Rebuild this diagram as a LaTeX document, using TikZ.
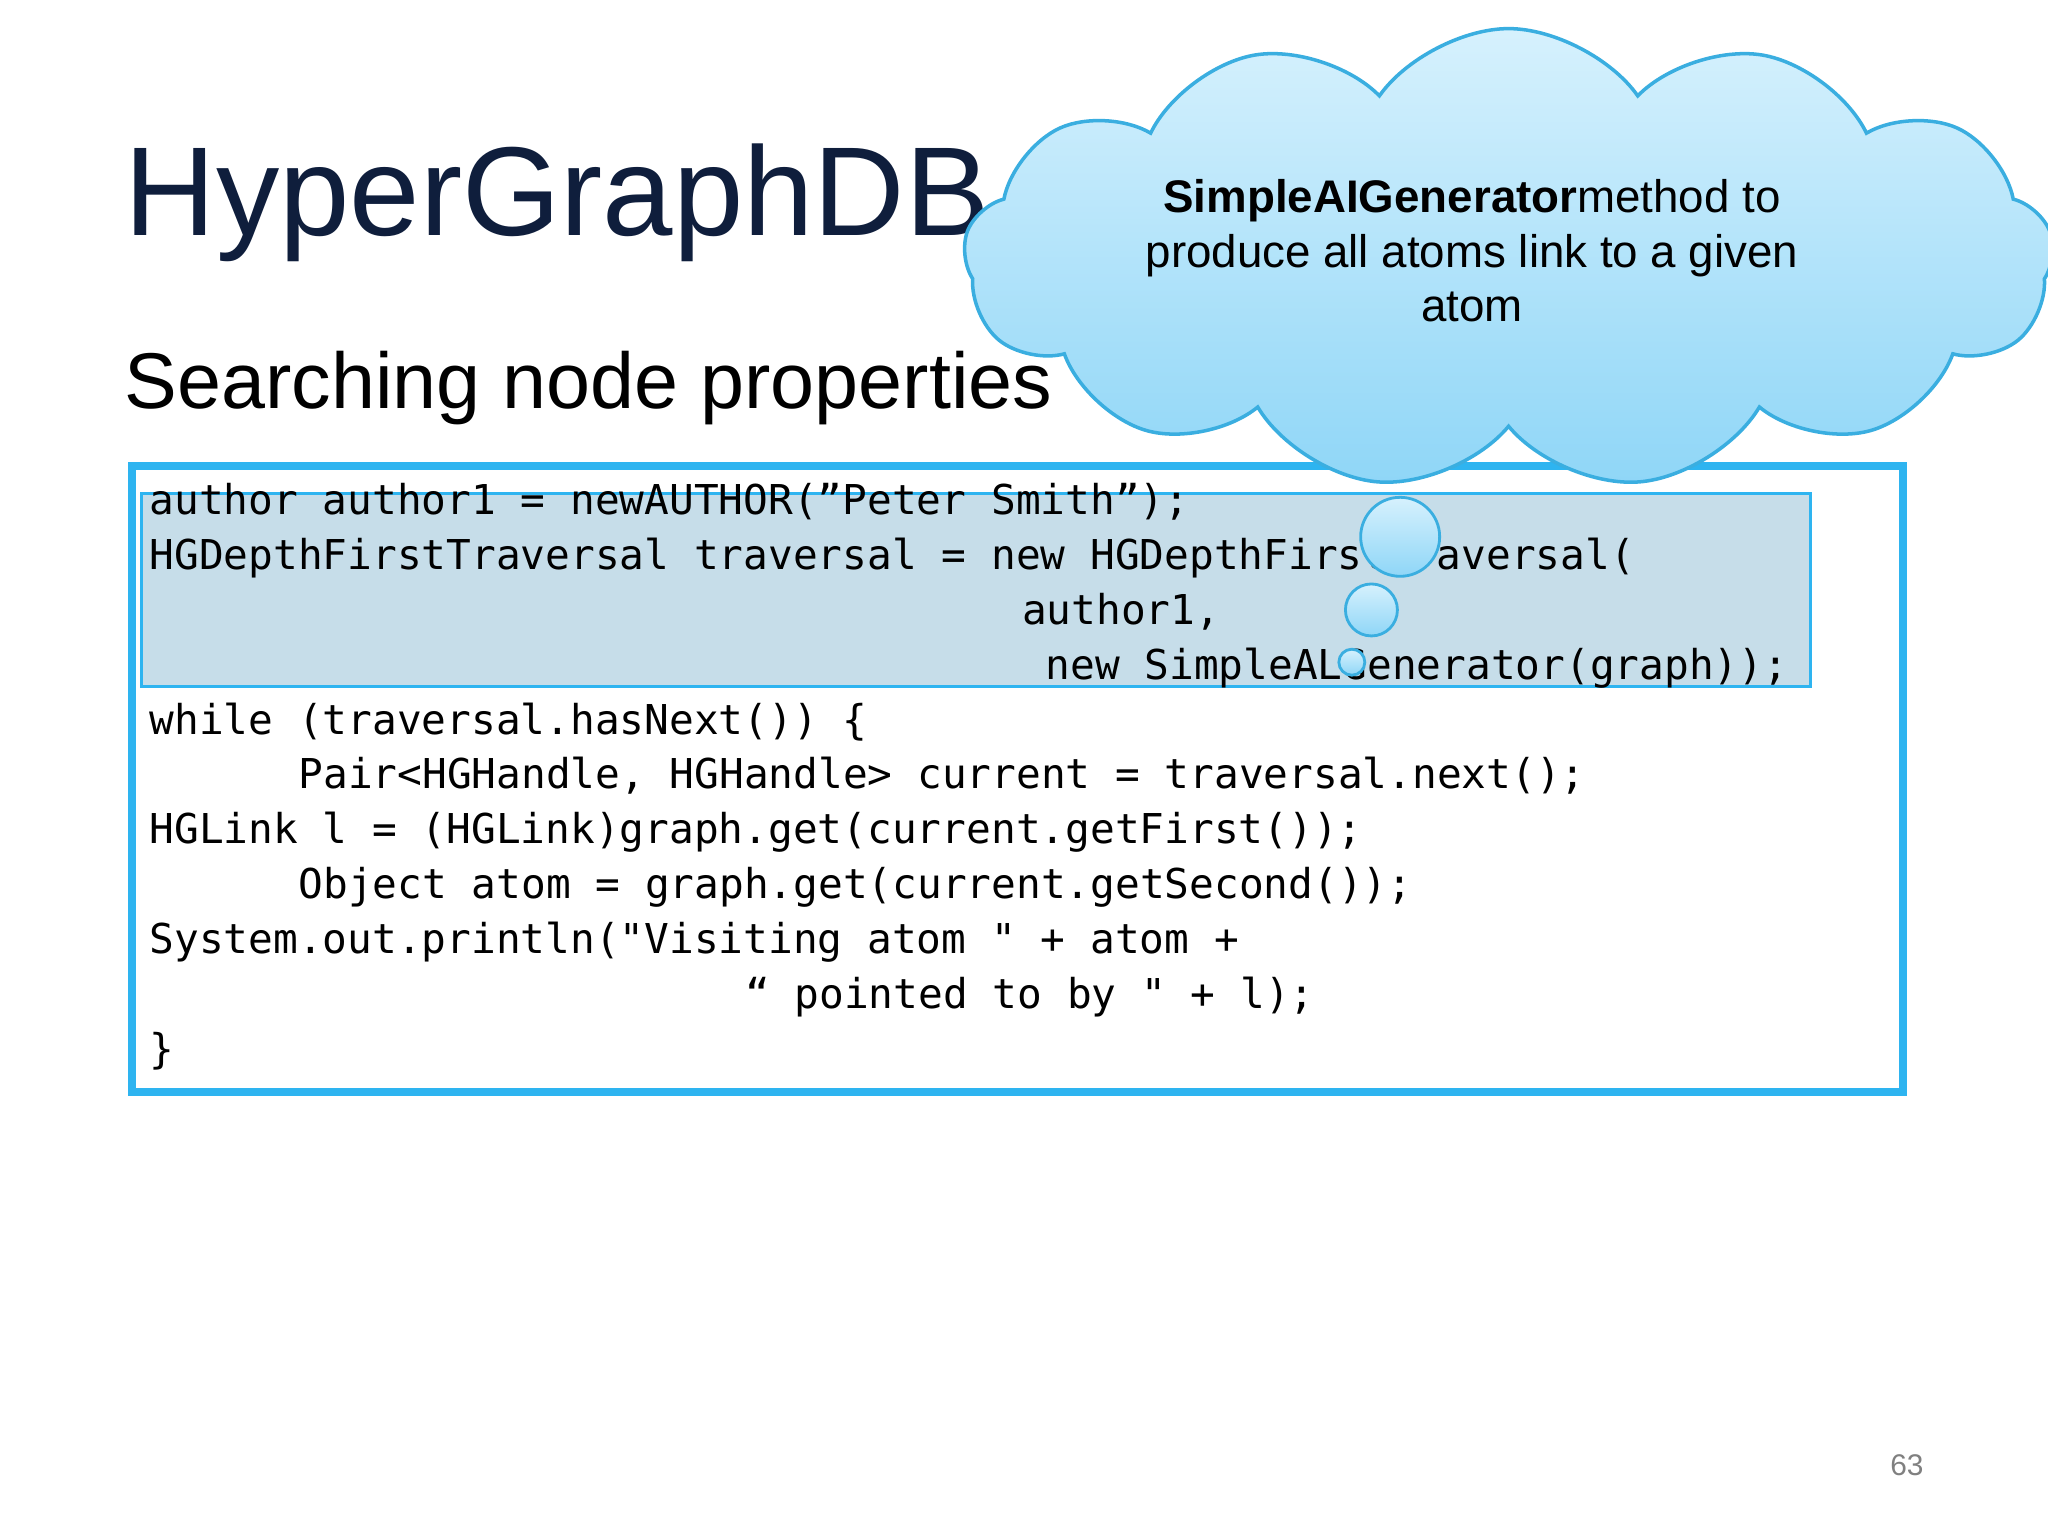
\documentclass[tikz,border=0pt]{standalone}
\usepackage{fontspec}
\setmainfont{Liberation Sans}
\newfontfamily\codefont{DejaVu Sans Mono}
\usetikzlibrary{shapes.symbols}
\definecolor{navy}{HTML}{0F1E3C}
\definecolor{boxblue}{HTML}{2EB4F0}
\definecolor{hl}{HTML}{C6DDE9}
\definecolor{cloudtop}{HTML}{D6F1FD}
\definecolor{cloudbot}{HTML}{8FD6F7}
\definecolor{cloudline}{HTML}{3AAEE0}
\tikzset{
 code/.style={anchor=base west,inner sep=0,font=\codefont\fontsize{11.7}{13}\selectfont},
 bubble/.style={circle,draw=cloudline,line width=0.8pt,top color=cloudtop,bottom color=cloudbot,inner sep=0}
}
\begin{document}
\begin{tikzpicture}[x=0.01306cm,y=-0.01306cm]
\useasboundingbox (0,0) rectangle (1568,1176);
\fill[white] (0,0) rectangle (1568,1176);
\node[anchor=base west,inner sep=0,text=navy,font=\fontsize{36}{40}\selectfont] (title) at (95,180) {HyperGraphDB API};
\node[anchor=base west,inner sep=0,font=\fontsize{22.5}{28}\selectfont] (sub) at (95,313) {Searching node properties};
\node[draw=boxblue,line width=2.2pt,minimum width=17.71cm,minimum height=6.26cm,anchor=north west,inner sep=0] (box) at (98,354) {};
\node[draw=boxblue,line width=0.8pt,fill=hl,minimum width=16.69cm,minimum height=1.93cm,anchor=north west,inner sep=0] (hlbox) at (107,377) {};
\node[code] (l1) at (114,394) {author author1 = newAUTHOR(”Peter Smith”);};
\node[code] (l2) at (114,436) {HGDepthFirstTraversal traversal = new HGDepthFirstTraversal(};
\node[code] (l3) at (782,478) {author1,};
\node[code] (l4) at (800,520) {new SimpleALGenerator(graph));};
\node[code] (l5) at (114,562) {while (traversal.hasNext()) \{};
\node[code] (l6) at (228,604) {Pair<HGHandle, HGHandle> current = traversal.next();};
\node[code] (l7) at (114,646) {HGLink l = (HGLink)graph.get(current.getFirst());};
\node[code] (l8) at (228,688) {Object atom = graph.get(current.getSecond());};
\node[code] (l9) at (114,730) {System.out.println("Visiting atom " + atom +};
\node[code] (l10) at (570,772) {“ pointed to by " + l);};
\node[code] (l11) at (114,814) {\}};
\node[cloud,cloud puffs=13,cloud puff arc=110,cloud ignores aspect,draw=cloudline,line width=1pt,top color=cloudtop,bottom color=cloudbot,minimum width=10.9cm,minimum height=4.6cm] (cloud) at (1155,198) {};
\node[bubble,minimum size=0.79cm] (b1) at (1072,411) {};
\node[bubble,minimum size=0.52cm] (b2) at (1050,467) {};
\node[bubble,minimum size=0.26cm] (b3) at (1035,507) {};
\node[align=center,font=\fontsize{13}{15.6}\selectfont] (ctext) at (1127,192) {\textbf{SimpleAIGenerator}method to\\produce all atoms link to a given\\atom};
\node[text=gray,font=\fontsize{8.5}{10}\selectfont] (pg) at (1460,1122) {63};
\end{tikzpicture}
\end{document}
